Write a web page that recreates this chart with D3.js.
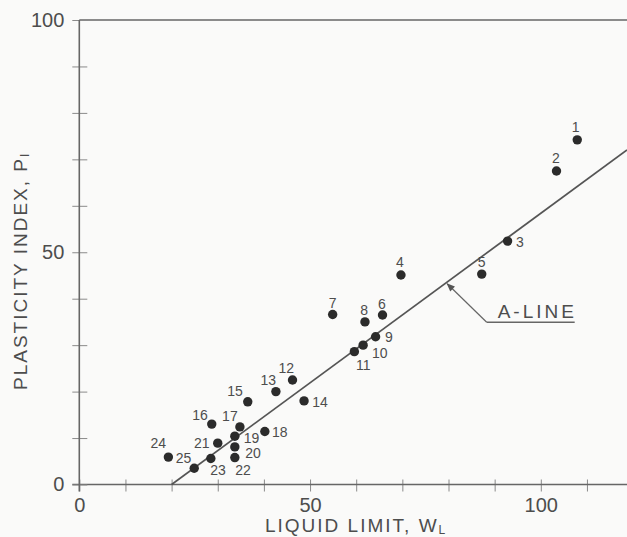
<!DOCTYPE html>
<html>
<head>
<meta charset="utf-8">
<script src="https://cdn.jsdelivr.net/npm/d3@7"></script>
<style>
  html, body { margin: 0; padding: 0; background: #fafaf9; }
  svg { display: block; font-family: "Liberation Sans", Arial, Helvetica, sans-serif; }
</style>
</head>
<body>
<svg id="chart" width="627" height="537"></svg>
<script>
// ---- data ----
const sampleIds = [1,2,3,4,5,6,7,8,9,10,11,12,13,14,15,16,17,18,19,20,21,22,23,24,25];
const liquidLimit = [107.9,103.4,92.8,69.7,87.2,65.7,54.9,61.9,64.2,61.5,59.6,46.2,42.6,48.7,36.5,28.7,34.8,40.2,33.7,33.7,30.0,33.7,28.5,19.3,24.9];
const plasticityIndex = [74.2,67.5,52.4,45.1,45.3,36.5,36.6,35.0,31.8,30.0,28.6,22.5,20.0,18.0,17.8,13.0,12.4,11.4,10.4,8.1,8.9,5.8,5.6,5.9,3.5];
const xTickValues = [0,10,20,30,40,50,60,70,80,90,100,110];
const xTickLabels = {0:"0", 50:"50", 100:"100"};
const yTickValues = [0,10,20,30,40,50,60,70,80,90,100];
const yTickLabels = {0:"0", 50:"50", 100:"100"};
// A-line: PI = 0.73 (LL - 20)
const aLineSlope = 0.73, aLineOrigin = 20;
const aLineArrowAtLL = 79.5;
const xTitle = "LIQUID LIMIT, W", xTitleSub = "L";
const yTitle = "PLASTICITY INDEX, P", yTitleSub = "I";
const aLineText = "A-LINE";

// label placement (pixel offsets from each point, layout only)
const labelOffsets = [[-1.6,-13.3],[-0.7,-12.7],[12.3,0.7],[-1,-13.3],[0,-11.7],[-0.6,-11],[0,-11.6],[-0.7,-11.7],
  [13.3,0],[16.7,8.3],[9,13.3],[-6.3,-11.7],[-7.7,-11.7],[16,0.7],[-12.7,-11],[-11.7,-9.3],[-10,-11],[15,0],
  [16.7,1.5],[18.3,6.5],[-16,0],[8.3,12.3],[7.3,11.7],[-10,-14],[-10.6,-10]];

// ---- layout ----
const W = 627, H = 537;
const x = d3.scaleLinear().domain([0, 100]).range([79.3, 540.8]);
const y = d3.scaleLinear().domain([0, 100]).range([484.5, 20]);
const xMax = x.invert(W);
const ink = "#4d4d4d", axisInk = "#666", dotInk = "#2b2b2b";

const svg = d3.select("#chart");
svg.append("rect").attr("width", W).attr("height", H).attr("fill", "#fafaf9");

// top border
svg.append("line").attr("x1", x(0)).attr("x2", W).attr("y1", y(100)).attr("y2", y(100))
  .attr("stroke", axisInk).attr("stroke-width", 1.5);

// x axis
const xAxis = svg.append("g").attr("transform", `translate(0,${y(0)})`)
  .call(d3.axisBottom(x).tickValues(xTickValues).tickSize(0).tickPadding(13)
    .tickFormat(d => xTickLabels[d] || ""));
xAxis.select(".domain").remove();
xAxis.append("line").attr("x1", x(0) - 7).attr("x2", W).attr("stroke", axisInk).attr("stroke-width", 1.6);
xAxis.selectAll(".tick line").attr("y1", -5).attr("y2", 7).attr("stroke", "#8a8a8a").attr("stroke-width", 1);
xAxis.selectAll(".tick text").attr("font-size", 20).attr("fill", ink).attr("font-family", "inherit");

// y axis
const yAxis = svg.append("g").attr("transform", `translate(${x(0)},0)`)
  .call(d3.axisLeft(y).tickValues(yTickValues).tickSize(0).tickPadding(15)
    .tickFormat(d => yTickLabels[d] || ""));
yAxis.select(".domain").remove();
yAxis.append("line").attr("y1", y(100)).attr("y2", y(0) + 7).attr("stroke", axisInk).attr("stroke-width", 1.6);
yAxis.selectAll(".tick line").attr("x1", -7).attr("x2", 8).attr("stroke", "#8a8a8a").attr("stroke-width", 1);
yAxis.selectAll(".tick text").attr("font-size", 20).attr("fill", ink).attr("font-family", "inherit");

// A-line
const aLine = d => aLineSlope * (d - aLineOrigin);
svg.append("line")
  .attr("x1", x(aLineOrigin)).attr("y1", y(0))
  .attr("x2", x(xMax)).attr("y2", y(aLine(xMax)))
  .attr("stroke", "#555").attr("stroke-width", 1.7);

// arrow + label
const ax = x(aLineArrowAtLL), ay = y(aLine(aLineArrowAtLL));
const tailX = ax + 40.5, tailY = ay + 39.5;
svg.append("defs").append("marker").attr("id", "ah").attr("viewBox", "0 0 10 10")
  .attr("refX", 9).attr("refY", 5).attr("markerWidth", 9).attr("markerHeight", 7).attr("orient", "auto")
  .append("path").attr("d", "M0,1 L10,5 L0,9 Z").attr("fill", "#555");
svg.append("line").attr("x1", tailX).attr("y1", tailY).attr("x2", ax + 1).attr("y2", ay + 1)
  .attr("stroke", "#666").attr("stroke-width", 1.2).attr("marker-end", "url(#ah)");
svg.append("line").attr("x1", tailX).attr("y1", tailY).attr("x2", tailX + 88).attr("y2", tailY)
  .attr("stroke", "#666").attr("stroke-width", 1.5);
svg.append("text").attr("x", tailX + 11).attr("y", tailY - 4)
  .attr("font-size", 19).attr("fill", ink).attr("letter-spacing", 3).text(aLineText);

// points
const pts = sampleIds.map((id, i) => ({id, ll: liquidLimit[i], pi: plasticityIndex[i], off: labelOffsets[i]}));
svg.append("g").selectAll("circle").data(pts).join("circle")
  .attr("cx", d => x(d.ll)).attr("cy", d => y(d.pi)).attr("r", 4.7).attr("fill", dotInk);
svg.append("g").selectAll("text").data(pts).join("text")
  .attr("x", d => x(d.ll) + d.off[0]).attr("y", d => y(d.pi) + d.off[1])
  .attr("text-anchor", "middle").attr("dominant-baseline", "central")
  .attr("font-size", 14).attr("fill", ink).text(d => d.id);

// axis titles
const xt = svg.append("text").attr("x", 265).attr("y", 532).attr("text-anchor", "start")
  .attr("font-size", 19).attr("letter-spacing", 2).attr("fill", ink);
xt.append("tspan").text(xTitle);
xt.append("tspan").attr("font-size", 12).attr("dy", 2).text(xTitleSub);

const yt = svg.append("text").attr("transform", "translate(27,390) rotate(-90)").attr("text-anchor", "start")
  .attr("font-size", 19).attr("letter-spacing", 2).attr("fill", ink);
yt.append("tspan").text(yTitle);
yt.append("tspan").attr("font-size", 12).attr("dy", 2).text(yTitleSub);
</script>
</body>
</html>
